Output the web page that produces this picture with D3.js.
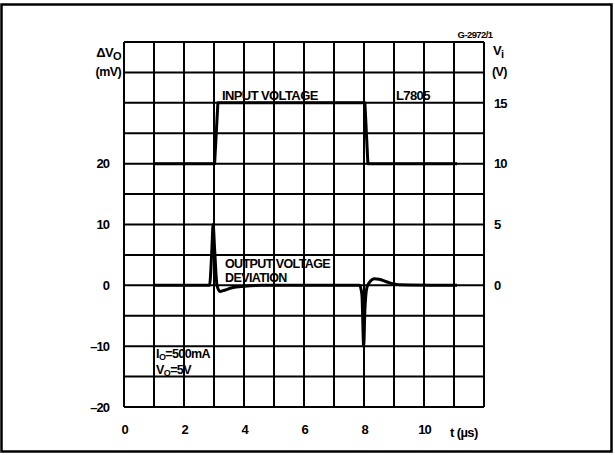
<html>
<head>
<script src="https://d3js.org/d3.v7.min.js"></script>
<style>
  body { margin: 0; background: white; }
  text { font-family: "Liberation Sans", Arial, sans-serif; font-weight: bold; fill: black; }
</style>
</head>
<body>
<svg width="615" height="455"></svg>
<script>
// time ticks (µs), left axis ticks (mV), right axis ticks (V)
var timeTicks = [0, 2, 4, 6, 8, 10];
var mvTicks = [20, 10, 0, -10, -20];
var vTicks = [15, 10, 5, 0];

// input voltage Vi (V) over time t (µs)
var inputT = [1, 3.02, 3.13, 8.03, 8.13, 11.1];
var inputV = [10, 10, 15, 15, 10, 10];

// output voltage deviation (mV) over time t (µs)
var outT = [1, 2.85, 2.93, 2.97, 3.02, 3.1, 3.2, 3.35, 3.6, 4.0, 4.6, 7.85, 7.93, 7.99, 8.03, 8.1, 8.2, 8.35, 8.5, 8.8, 9.2, 11.1];
var outMv = [0, 0, 6, 10, 6, 0, -1.0, -0.8, -0.4, -0.15, 0, 0, -1.5, -10, -4, -0.3, 0.6, 1.1, 1.0, 0.5, 0.1, 0];

var svg = d3.select("svg");

var x = d3.scaleLinear().domain([0, 12]).range([124, 484]);
var yL = d3.scaleLinear().domain([-20, 40]).range([407, 42]);
var yR = d3.scaleLinear().domain([-10, 20]).range([407, 42]);

// outer frame
svg.append("rect").attr("x", 1.5).attr("y", 4.5).attr("width", 610).attr("height", 447)
  .attr("fill", "none").attr("stroke", "black").attr("stroke-width", 2.5);

// grid
var grid = svg.append("g").attr("stroke", "black").attr("stroke-width", 2);
grid.selectAll(".v").data(d3.range(0, 13)).enter().append("line")
  .attr("x1", d => x(d)).attr("x2", d => x(d))
  .attr("y1", yL(40)).attr("y2", yL(-20));
grid.selectAll(".h").data(d3.range(-20, 41, 5)).enter().append("line")
  .attr("x1", x(0)).attr("x2", x(12))
  .attr("y1", d => yL(d)).attr("y2", d => yL(d));

// axis labels via d3 axes (no lines)
var left = svg.append("g").attr("transform", "translate(" + x(0) + ",0)")
  .call(d3.axisLeft(yL).tickValues(mvTicks).tickSize(0).tickPadding(15)
    .tickFormat(d => d < 0 ? "\u2013" + (-d) : d));
var right = svg.append("g").attr("transform", "translate(" + x(12) + ",0)")
  .call(d3.axisRight(yR).tickValues(vTicks).tickSize(0).tickPadding(10));
var bottom = svg.append("g").attr("transform", "translate(0," + yL(-20) + ")")
  .call(d3.axisBottom(x).tickValues(timeTicks).tickSize(0).tickPadding(18));
[left, right, bottom].forEach(function (g) {
  g.select(".domain").remove();
  g.selectAll("text").style("font-size", "13px").style("font-weight", "bold")
    .style("font-family", "'Liberation Sans', Arial, sans-serif").attr("fill", "black")
    .style("letter-spacing", "-1px");
});

// curves
var lineIn = d3.line().x(d => x(d[0])).y(d => yR(d[1]));
svg.append("path").datum(d3.zip(inputT, inputV)).attr("d", lineIn)
  .attr("fill", "none").attr("stroke", "black").attr("stroke-width", 3).attr("stroke-linejoin", "round");

var lineOut = d3.line().x(d => x(d[0])).y(d => yL(d[1])).curve(d3.curveMonotoneX);
svg.append("path").datum(d3.zip(outT, outMv)).attr("d", lineOut)
  .attr("fill", "none").attr("stroke", "black").attr("stroke-width", 3).attr("stroke-linejoin", "round");

// texts
function label(tx, ty, s, size, anchor) {
  return svg.append("text").attr("x", tx).attr("y", ty)
    .attr("text-anchor", anchor || "start")
    .style("font-size", size + "px").style("letter-spacing", "-0.6px").text(s);
}
label(222, 100, "INPUT VOLTAGE", 13);
label(396, 100, "L7805", 13);
label(225, 268, "OUTPUT VOLTAGE", 12.5);
label(225, 282, "DEVIATION", 12.5);

var io = label(156, 358, "I", 12.5);
io.append("tspan").attr("dy", 2).style("font-size", "9px").text("O");
io.append("tspan").attr("dy", -2).text("=500mA");
var vo = label(156, 374, "V", 12.5);
vo.append("tspan").attr("dy", 2).style("font-size", "9px").text("O");
vo.append("tspan").attr("dy", -2).text("=5V");

var dv = label(121, 57, "\u0394V", 13, "end");
dv.append("tspan").attr("dy", 3).style("font-size", "11px").text("O");
label(121, 76, "(mV)", 12.5, "end");
var vi = label(493, 55, "V", 13);
vi.append("tspan").attr("dy", 3).style("font-size", "11px").text("i");
label(492, 76, "(V)", 12.5);
label(475, 38, "G-2972/1", 9.5, "middle");
label(450, 437, "t (\u00b5s)", 13);
</script>
</body>
</html>
